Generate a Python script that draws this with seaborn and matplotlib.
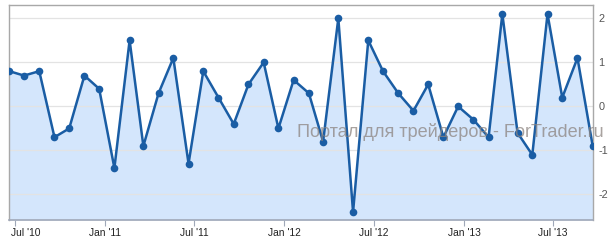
import matplotlib
matplotlib.use("Agg")
import matplotlib.pyplot as plt
import matplotlib.transforms as mtransforms
import seaborn as sns
import pandas as pd
import numpy as np

values = [0.8, 0.7, 0.8, -0.7, -0.5, 0.7, 0.4, -1.4, 1.5, -0.9,
          0.3, 1.1, -1.3, 0.8, 0.2, -0.4, 0.5, 1.0, -0.5, 0.6,
          0.3, -0.8, 2.0, -2.4, 1.5, 0.8, 0.3, -0.1, 0.5, -0.7,
          0.0, -0.3, -0.7, 2.1, -0.6, -1.1, 2.1, 0.2, 1.1, -0.9]
dates = pd.date_range("2010-06-20", periods=len(values), freq=pd.DateOffset(months=1))
tick_dates = pd.to_datetime(["2010-07-01", "2011-01-01", "2011-07-01", "2012-01-01",
                             "2012-07-01", "2013-01-01", "2013-07-01"])
tick_labels = ["Jul '10", "Jan '11", "Jul '11", "Jan '12", "Jul '12", "Jan '13", "Jul '13"]
y_ticks = [-2, -1, 0, 1, 2]
y_labels = ["-2", "-1", "0", "1", "2"]

df = pd.DataFrame({"date": dates, "value": values})

sns.set_theme(style="white")
plt.rcParams['font.family'] = ['Liberation Sans', 'DejaVu Sans']

fig = plt.figure(figsize=(6.11, 2.42), dpi=100)
W, H = 611, 242
ax = fig.add_axes([9.3 / W, 1 - 220 / H, (592.7 - 9.3) / W, (220 - 4.7) / H])

line_color = "#1a5da4"
ax.fill_between(df["date"], df["value"], -2.58, color="#d4e6fc", zorder=1, linewidth=0)
for yt in y_ticks:
    ax.axhline(yt, color="#e3e3e3", linewidth=0.9, zorder=1.5)
sns.lineplot(data=df, x="date", y="value", ax=ax, color=line_color, linewidth=1.8,
             marker="o", markersize=5.5, markeredgewidth=0, zorder=3)

ax.set_xlim(dates[0], dates[-1])
ax.set_ylim(-2.58, 2.31)
ax.set_xticks(tick_dates)
ax.set_xticklabels(tick_labels)
ax.set_yticks(y_ticks)
ax.set_yticklabels(y_labels)
ax.yaxis.tick_right()
ax.tick_params(axis="y", length=0, labelsize=7.8, labelcolor="#555555", pad=4)
ax.tick_params(axis="x", length=4, width=0.8, color="#a0a8b8", labelsize=7.4, labelcolor="#222222", pad=2,
               bottom=True)
first = ax.get_xticklabels()[0]
first.set_ha("left")
first.set_transform(first.get_transform() + mtransforms.ScaledTranslation(-3.7 / 100, 0, fig.dpi_scale_trans))
ax.set_xlabel("")
ax.set_ylabel("")
for side in ["left", "top", "right"]:
    ax.spines[side].set_color("#a8a8a8")
    ax.spines[side].set_linewidth(1.0)
ax.spines["bottom"].set_color("#a0a8b8")
ax.spines["bottom"].set_linewidth(1.2)

fig.text(604 / W, 1 - 132 / H, "Портал для трейдеров - ForTrader.ru", ha="right", va="center",
         fontsize=13.1, color="#8c8480", alpha=0.75, zorder=10,
         family=['Liberation Sans', 'DejaVu Sans'])

fig.savefig("out.png", dpi=100)
